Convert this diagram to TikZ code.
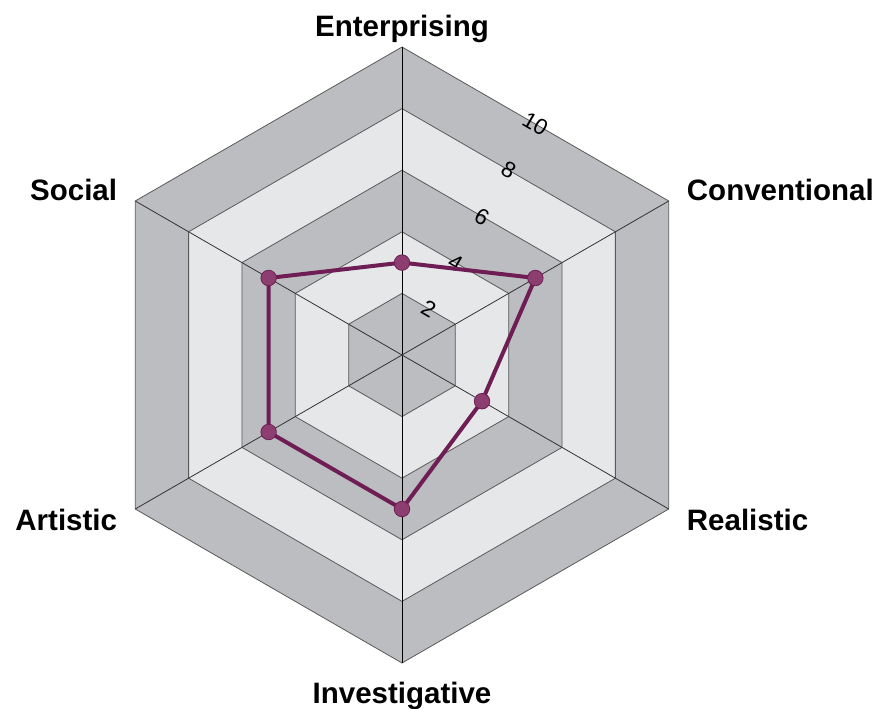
\documentclass[tikz,border=0pt]{standalone}
\usepackage{fontspec}
\setsansfont{Liberation Sans}
\usetikzlibrary{positioning}
\definecolor{banddark}{RGB}{188,189,193}
\definecolor{bandlight}{RGB}{230,231,233}
\definecolor{datacolor}{RGB}{110,30,85}
\definecolor{markfill}{RGB}{140,62,112}
\begin{document}
\begin{tikzpicture}[x=1pt, y=1pt,
  ring/.style={draw=black!65, line width=0.8pt},
  spoke/.style={draw=black!80, line width=0.8pt},
  datapoint/.style={circle, fill=markfill, draw=datacolor, line width=0.8pt, minimum size=15.5pt, inner sep=0pt},
  axislabel/.style={font=\sffamily\bfseries\fontsize{29.5}{30}\selectfont, inner sep=0pt},
  ticklabel/.style={font=\sffamily\fontsize{22.5}{22.5}\selectfont, inner sep=0pt, rotate=-30}]
\useasboundingbox (-402,-354) rectangle (479,355);

% RINGS

\path[ring, fill=banddark] (90:308) -- (30:308) -- (-30:308) -- (-90:308) -- (-150:308) -- (150:308) -- cycle;
\path[ring, fill=bandlight] (90:246.4) -- (30:246.4) -- (-30:246.4) -- (-90:246.4) -- (-150:246.4) -- (150:246.4) -- cycle;
\path[ring, fill=banddark] (90:184.8) -- (30:184.8) -- (-30:184.8) -- (-90:184.8) -- (-150:184.8) -- (150:184.8) -- cycle;
\path[ring, fill=bandlight] (90:123.2) -- (30:123.2) -- (-30:123.2) -- (-90:123.2) -- (-150:123.2) -- (150:123.2) -- cycle;
\path[ring, fill=banddark] (90:61.6) -- (30:61.6) -- (-30:61.6) -- (-90:61.6) -- (-150:61.6) -- (150:61.6) -- cycle;

% SPOKES

\coordinate (centre) at (0,0);
\coordinate (v-ent) at (90:308);
\coordinate (v-con) at (30:308);
\coordinate (v-rea) at (-30:308);
\coordinate (v-inv) at (-90:308);
\coordinate (v-art) at (-150:308);
\coordinate (v-soc) at (150:308);

\draw[spoke, draw=black] (v-ent) -- (v-inv);
\draw[spoke] (v-con) -- (v-art);
\draw[spoke] (v-rea) -- (v-soc);

% TICKS

\node [ticklabel] (tick-2) at (60:53.3) {2};
\node [ticklabel] (tick-4) at (60:106.7) {4};
\node [ticklabel] (tick-6) at (60:160.0) {6};
\node [ticklabel] (tick-8) at (60:213.4) {8};
\node [ticklabel] (tick-10) at (60:266.7) {10};

% SCORES

\coordinate (d-ent) at (90:92.4);
\coordinate (d-con) at (30:154);
\coordinate (d-rea) at (-30:92.4);
\coordinate (d-inv) at (-90:154);
\coordinate (d-art) at (-150:154);
\coordinate (d-soc) at (150:154);

\draw[datacolor, line width=4pt, line join=round] (d-ent) -- (d-con) -- (d-rea) -- (d-inv) -- (d-art) -- (d-soc) -- cycle;

\node [datapoint] (p-ent) at (d-ent) {};
\node [datapoint] (p-con) at (d-con) {};
\node [datapoint] (p-rea) at (d-rea) {};
\node [datapoint] (p-inv) at (d-inv) {};
\node [datapoint] (p-art) at (d-art) {};
\node [datapoint] (p-soc) at (d-soc) {};

% LABELS

\node [axislabel, above=10pt of v-ent, anchor=base] (enterprising) {Enterprising};
\node [axislabel, below=40pt of v-inv, anchor=base] (investigative) {Investigative};
\node [axislabel, right=18pt of v-con, anchor=base west] (conventional) {Conventional};
\node [axislabel, left=18pt of v-soc, anchor=base east] (social) {Social};
\node [axislabel, below right=21pt and 18pt of v-rea, anchor=base west] (realistic) {Realistic};
\node [axislabel, below left=21pt and 18pt of v-art, anchor=base east] (artistic) {Artistic};

\end{tikzpicture}
\end{document}
